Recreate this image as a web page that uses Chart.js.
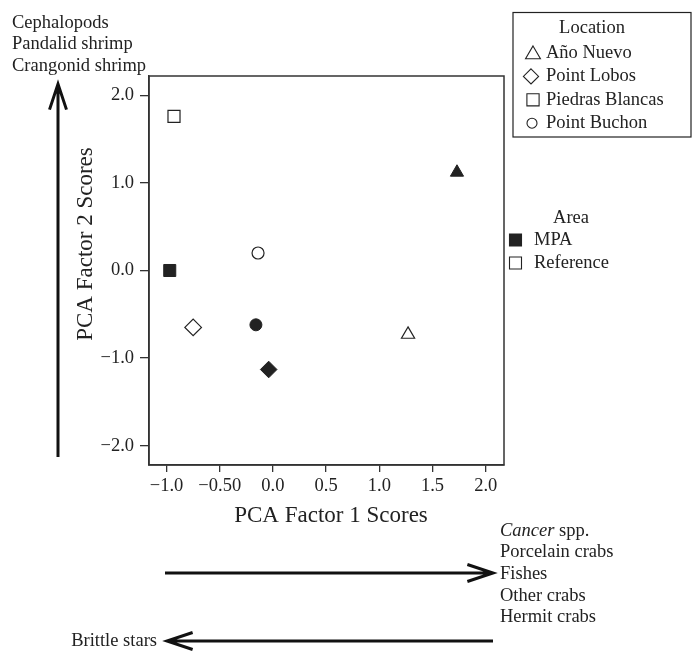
<!DOCTYPE html>
<html lang="en">
<head>
<meta charset="UTF-8">
<script src="https://cdn.jsdelivr.net/npm/chart.js"></script>
<title>PCA Factor Scores</title>
<style>
  body { margin: 0; background: #fff; }
</style>
</head>
<body>
<canvas id="pcaChart" width="696" height="651"></canvas>
<script>
// data
const locations = ['Año Nuevo', 'Point Lobos', 'Piedras Blancas', 'Point Buchon'];
const areas = ['MPA', 'Reference'];
const mpaX = [1.73, -0.04, -0.97, -0.16];
const mpaY = [1.12, -1.13, 0.00, -0.62];
const refX = [1.27, -0.75, -0.93, -0.14];
const refY = [-0.73, -0.65, 1.76, 0.20];
const xTicks = [-1, -0.5, 0, 0.5, 1, 1.5, 2];
const xTickLabels = ['−1.0', '−0.50', '0.0', '0.5', '1.0', '1.5', '2.0'];
const yTicks = [-2, -1, 0, 1, 2];
const yTickLabels = ['−2.0', '−1.0', '0.0', '1.0', '2.0'];
const factor2Pos = ['Cephalopods', 'Pandalid shrimp', 'Crangonid shrimp'];
const factor1Pos = ['Cancer spp.', 'Porcelain crabs', 'Fishes', 'Other crabs', 'Hermit crabs'];
const factor1Neg = ['Brittle stars'];

const ink = '#222';
const serif = '"Liberation Serif", "Times New Roman", serif';
const txt = '18.5px ' + serif;
const styles = ['triangle', 'rectRot', 'rect', 'circle'];
const radius = { triangle: 7.6, rectRot: 8.3, rect: 8.5, circle: 6 };

function points(xs, ys) {
    return xs.map((x, i) => ({ x: x, y: ys[i] }));
}

function symbol(ctx, style, x, y, r, filled) {
    ctx.beginPath();
    if (style === 'triangle') {
        ctx.moveTo(x, y - r);
        ctx.lineTo(x + r * 0.866, y + r / 2);
        ctx.lineTo(x - r * 0.866, y + r / 2);
        ctx.closePath();
    } else if (style === 'rectRot') {
        ctx.moveTo(x, y - r);
        ctx.lineTo(x + r, y);
        ctx.lineTo(x, y + r);
        ctx.lineTo(x - r, y);
        ctx.closePath();
    } else if (style === 'rect') {
        ctx.rect(x - r, y - r, 2 * r, 2 * r);
    } else {
        ctx.arc(x, y, r, 0, Math.PI * 2);
    }
    ctx.fillStyle = filled ? ink : '#fff';
    ctx.fill();
    ctx.stroke();
}

function arrow(ctx, x1, y1, x2, y2) {
    const ang = Math.atan2(y2 - y1, x2 - x1);
    const len = 27, spread = 0.32;
    ctx.beginPath();
    ctx.moveTo(x1, y1);
    ctx.lineTo(x2, y2);
    ctx.moveTo(x2 - len * Math.cos(ang - spread), y2 - len * Math.sin(ang - spread));
    ctx.lineTo(x2, y2);
    ctx.lineTo(x2 - len * Math.cos(ang + spread), y2 - len * Math.sin(ang + spread));
    ctx.stroke();
}

const extras = {
    id: 'extras',
    afterDraw(chart) {
        const ctx = chart.ctx;
        const a = chart.chartArea;
        ctx.save();

        // frame
        ctx.strokeStyle = '#333';
        ctx.lineWidth = 1.5;
        ctx.strokeRect(a.left, a.top, a.right - a.left, a.bottom - a.top);

        // axis titles
        ctx.fillStyle = ink;
        ctx.font = '23px ' + serif;
        ctx.textAlign = 'center';
        ctx.textBaseline = 'middle';
        ctx.fillText('PCA Factor 1 Scores', 331, 516);
        ctx.save();
        ctx.translate(86, 244);
        ctx.rotate(-Math.PI / 2);
        ctx.fillText('PCA Factor 2 Scores', 0, 0);
        ctx.restore();

        // loading arrows
        ctx.strokeStyle = '#111';
        ctx.lineWidth = 3;
        ctx.lineCap = 'butt';
        arrow(ctx, 58, 457, 58, 84);
        arrow(ctx, 165, 573, 493, 573);
        arrow(ctx, 493, 641, 167, 641);

        ctx.font = txt;
        ctx.textAlign = 'left';
        factor2Pos.forEach((t, i) => ctx.fillText(t, 12, 23 + i * 21.5));
        factor1Pos.forEach((t, i) => {
            const y = 531 + i * 21.6;
            if (t.startsWith('Cancer ')) {
                ctx.font = 'italic ' + txt;
                ctx.fillText('Cancer', 500, y);
                const w = ctx.measureText('Cancer').width;
                ctx.font = txt;
                ctx.fillText(t.slice(6), 500 + w, y);
            } else {
                ctx.fillText(t, 500, y);
            }
        });
        ctx.textAlign = 'right';
        factor1Neg.forEach((t, i) => ctx.fillText(t, 157, 641 + i * 21.6));

        // location legend
        ctx.strokeStyle = ink;
        ctx.lineWidth = 1.2;
        ctx.strokeRect(513, 12.5, 178, 124.5);
        ctx.textAlign = 'center';
        ctx.fillText('Location', 592, 28);
        ctx.textAlign = 'left';
        const legR = { triangle: 8.6, rectRot: 7.6, rect: 6.1, circle: 5 };
        const legX = [533, 531, 533, 532];
        locations.forEach((name, i) => {
            const y = 53 + i * 23.4;
            ctx.lineWidth = 1.1;
            symbol(ctx, styles[i], legX[i], y + (styles[i] === 'triangle' ? 1.5 : 0), legR[styles[i]], false);
            ctx.fillStyle = ink;
            ctx.fillText(name, 546, y);
        });

        // area legend
        ctx.textAlign = 'center';
        ctx.fillText('Area', 571, 218);
        ctx.textAlign = 'left';
        areas.forEach((name, i) => {
            const y = 240 + i * 23;
            symbol(ctx, 'rect', 515.5, y, 6, i === 0);
            ctx.fillStyle = ink;
            ctx.fillText(name, 534, y);
        });

        ctx.restore();
    }
};

function axis(min, max, tickVals, tickLabels, tickLen, pad, fit) {
    return {
        type: 'linear',
        min: min,
        max: max,
        afterBuildTicks: s => { s.ticks = tickVals.map(v => ({ value: v })); },
        afterFit: fit,
        ticks: {
            autoSkip: false,
            maxRotation: 0,
            padding: pad,
            color: ink,
            font: { family: serif, size: 18.5 },
            callback: v => tickLabels[tickVals.indexOf(v)]
        },
        grid: { drawOnChartArea: false, drawTicks: true, tickLength: tickLen, color: '#333', lineWidth: 1.3 },
        border: { display: true, color: '#333', width: 1.5 }
    };
}

new Chart(document.getElementById('pcaChart'), {
    type: 'scatter',
    data: {
        datasets: [{
            label: areas[0],
            data: points(mpaX, mpaY),
            pointStyle: styles,
            pointRadius: styles.map(s => radius[s]),
            backgroundColor: ink,
            borderColor: ink,
            borderWidth: 1
        }, {
            label: areas[1],
            data: points(refX, refY),
            pointStyle: styles,
            pointRadius: styles.map(s => radius[s]),
            backgroundColor: '#fff',
            borderColor: ink,
            borderWidth: 1.2
        }]
    },
    options: {
        responsive: false,
        animation: false,
        layout: { padding: { left: 0, top: 76, right: 192, bottom: 0 } },
        plugins: { legend: { display: false }, tooltip: { enabled: false } },
        scales: {
            x: axis(-1.165, 2.172, xTicks, xTickLabels, 7, 3, s => { s.height = 186; }),
            y: axis(-2.22, 2.22, yTicks, yTickLabels, 9, 6, s => { s.width = 149; })
        }
    },
    plugins: [extras]
});
</script>
</body>
</html>
